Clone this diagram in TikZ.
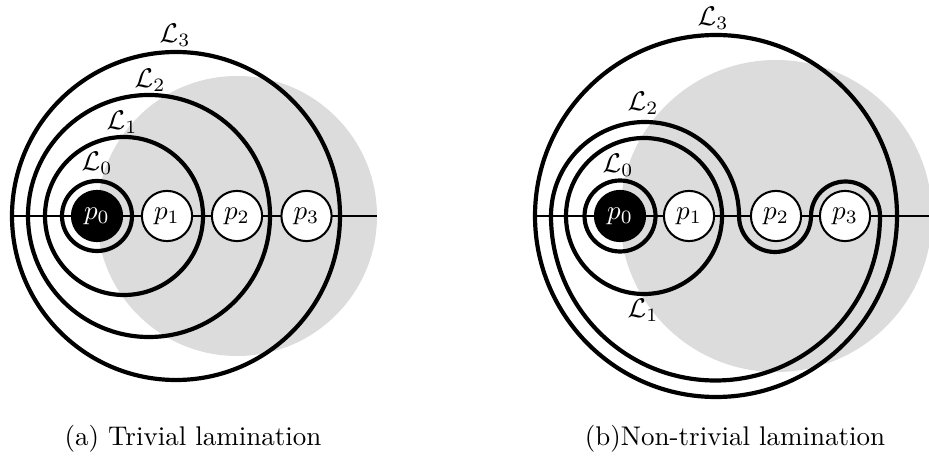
\documentclass[tikz,border=0pt]{standalone}
\usepackage{amsmath}
\definecolor{discgray}{RGB}{220,220,220}
\begin{document}
\begin{tikzpicture}[x=0.37037pt,y=0.37037pt,
  lam/.style={line width=1.55pt},
  axisline/.style={line width=0.45pt},
  puncture/.style={circle,draw,fill=white,line width=0.75pt,minimum size=18.6pt,inner sep=0pt},
  blackpunct/.style={puncture,fill=black,text=white},
  lab/.style={inner sep=0pt},
  captext/.style={anchor=base,inner sep=0pt}]
\useasboundingbox (0,0) rectangle (929,455);
% ---------------- (a) ----------------
\fill[discgray] (237,239) circle (140);
\coordinate (aL) at (11.7,239);
\coordinate (aR) at (376.7,239);
\draw[axisline] (aL) -- (aR);
\draw[lam] (97,239) circle (35);
\draw[lam] (124,239) circle (79);
\draw[lam] (149,239) circle (121);
\draw[lam] (176,239) circle (164);
\node[blackpunct] (a0) at (97,239) {$p_0$};
\node[puncture] (a1) at (167,239) {$p_1$};
\node[puncture] (a2) at (237,239) {$p_2$};
\node[puncture] (a3) at (306.5,239) {$p_3$};
\node[lab] (aL3) at (175,420) {$\mathcal{L}_3$};
\node[lab] (aL2) at (150,375) {$\mathcal{L}_2$};
\node[lab] (aL1) at (122,333) {$\mathcal{L}_1$};
\node[lab] (aL0) at (97,292) {$\mathcal{L}_0$};
\node[captext] (capa) at (193,10) {(a) Trivial lamination};
% ---------------- (b) ----------------
\begin{scope}
\clip (500,0) rectangle (929,455);
\fill[discgray] (776,239) circle (156);
\end{scope}
\coordinate (bL) at (535,239);
\coordinate (bR) at (929,239);
\draw[axisline] (bL) -- (bR);
\draw[lam] (620,239) circle (35.5);
\draw[lam] (644,239) circle (78);
\draw[lam] (551,239) arc (180:0:94) arc (180:360:36) arc (180:0:34.5) arc (0:-180:164.5) -- cycle;
\draw[lam] (716,239) circle (181);
\node[blackpunct] (b0) at (620,239) {$p_0$};
\node[puncture] (b1) at (689,239) {$p_1$};
\node[puncture] (b2) at (776,239) {$p_2$};
\node[puncture] (b3) at (845,239) {$p_3$};
\node[lab] (bL3) at (713,437) {$\mathcal{L}_3$};
\node[lab] (bL2) at (643,352) {$\mathcal{L}_2$};
\node[lab] (bL0) at (618,290) {$\mathcal{L}_0$};
\node[lab] (bL1) at (643,145) {$\mathcal{L}_1$};
\node[captext] (capb) at (735,10) {(b)Non-trivial lamination};
\end{tikzpicture}
\end{document}
